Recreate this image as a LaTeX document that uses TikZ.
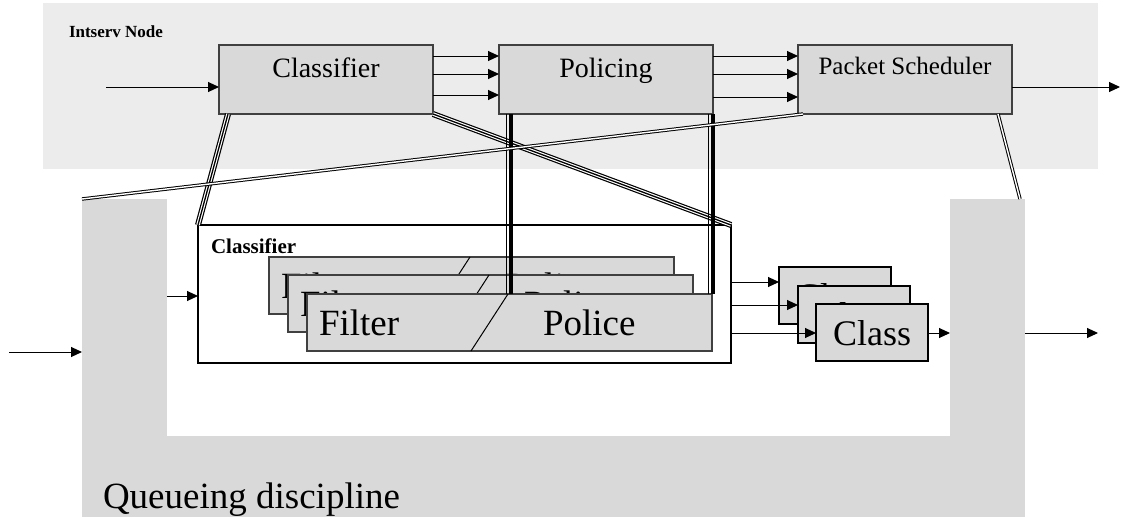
\documentclass[tikz,border=0pt]{standalone}
\usepackage{fontspec}
\setmainfont{Liberation Serif}
\usetikzlibrary{arrows.meta,calc}

\definecolor{boxgray}{HTML}{D9D9D9}
\definecolor{hatchgray}{HTML}{ECECEC}
\definecolor{edgegray}{HTML}{404040}

\newcommand\fsz[1]{\fontsize{#1}{#1}\selectfont}

\tikzset{
  stage/.style={draw=edgegray, line width=1.3pt, fill=boxgray, inner sep=0pt, outer sep=0pt,
    minimum width=214pt, minimum height=69pt, anchor=north west},
  fpbox/.style={draw=edgegray, line width=1.2pt, fill=boxgray, inner sep=0pt, outer sep=0pt,
    minimum width=405pt, minimum height=57pt, anchor=north west},
  clbox/.style={draw=black, line width=1.2pt, fill=boxgray, inner sep=0pt, outer sep=0pt,
    minimum width=112pt, minimum height=57pt, anchor=north west},
  qpart/.style={fill=boxgray, inner sep=0pt, outer sep=0pt, anchor=north west},
  txt/.style={inner sep=0pt, outer sep=0pt},
  arr/.style={-{Triangle[length=11pt,width=10pt]}, line width=1pt},
  slash/.style={line width=1pt},
  triple/.style={draw=black, line width=6pt,
    postaction={draw=white, line width=3.6pt},
    postaction={draw=black, line width=1.3pt}},
  dbl/.style={draw=black, double=white, double distance=1.4pt, line width=1pt},
  heavy/.style={line width=3.5pt},
  hair/.style={line width=1pt},
}

% one Filter/Police entry: name, left x, top y
\newcommand\FilterPolice[3]{%
  \node[fpbox] (#1) at (#2,#3) {};
  \draw[slash] ($(#1.north west)+(164,57)$) -- ($(#1.north west)+(201,0)$);
  \node[txt, anchor=base west, font=\fsz{37}] (#1-f) at ($(#1.north west)+(12,41)$) {Filter};
  \node[txt, anchor=base west, font=\fsz{37}] (#1-p) at ($(#1.north west)+(236,41)$) {Police};
}
% one Class entry: name, left x, top y
\newcommand\ClassEntry[3]{%
  \node[clbox] (#1) at (#2,#3) {};
  \node[txt, anchor=base, font=\fsz{36}] (#1-t) at ($(#1.north)+(0,41)$) {Class};
}

\begin{document}
\begin{tikzpicture}[x=1pt,y=-1pt]
\useasboundingbox (0,0) rectangle (1121,517);

% ---------- Intserv node ----------
\node[qpart, fill=hatchgray, minimum width=1055pt, minimum height=166pt] (intserv) at (43,3) {};
\node[txt, anchor=base west, font=\fsz{17}\bfseries] (intservlbl) at (69,37) {Intserv Node};

\node[stage] (cl) at (219,45) {};
\node[stage] (pol) at (499,45) {};
\node[stage] (sched) at (798,45) {};
\node[txt, anchor=base, font=\fsz{28}] (cl-t) at ($(cl.north)+(0,32)$) {Classifier};
\node[txt, anchor=base, font=\fsz{28}] (pol-t) at ($(pol.north)+(0,32)$) {Policing};
\node[txt, anchor=base, font=\fsz{25}] (sched-t) at ($(sched.north)+(0,29)$) {Packet Scheduler};

\coordinate (inTop) at (106,87);
\coordinate (outTop) at (1120,87);
\draw[arr] (inTop) -- (cl.west |- inTop);
\foreach \y in {56,74,95} \draw[arr] (cl.east |- 0,\y) -- (pol.west |- 0,\y);
\foreach \y in {56,74,97} \draw[arr] (pol.east |- 0,\y) -- (sched.west |- 0,\y);
\draw[arr] (sched.east |- outTop) -- (outTop);

% ---------- Queueing discipline ----------
\node[qpart, minimum width=85pt, minimum height=318pt] (qleft) at (82,199) {};
\node[qpart, minimum width=75pt, minimum height=318pt] (qright) at (950,199) {};
\node[qpart, minimum width=943pt, minimum height=81pt] (qbottom) at (82,436) {};
\node[txt, anchor=base west, font=\fsz{37}] (qlbl) at (103,508) {Queueing discipline};

% classifier container
\node[draw=black, line width=1.2pt, fill=white, inner sep=0pt, outer sep=0pt, anchor=north west,
      minimum width=533pt, minimum height=138pt] (cont) at (198,225) {};
\node[txt, anchor=base west, font=\fsz{21}\bfseries] (contlbl) at (211,253) {Classifier};

\FilterPolice{f1}{269}{257}
\FilterPolice{f2}{288}{275}
\FilterPolice{f3}{307}{294}

\ClassEntry{c1}{779}{267}
\ClassEntry{c2}{798}{286}
\ClassEntry{c3}{816}{304}

\coordinate (inQ) at (9,352);
\coordinate (outQ) at (1098,333);
\draw[arr] (inQ) -- (qleft.west |- inQ);
\draw[arr] (qleft.east |- 0,296) -- (cont.west |- 0,296);
\draw[arr] (cont.east |- 0,282) -- (c1.west |- 0,282);
\draw[arr] (cont.east |- 0,305) -- (c2.west |- 0,305);
\draw[arr] (cont.east |- 0,333) -- (c3.west |- 0,333);
\draw[arr] (c3.east |- 0,333) -- (qright.west |- 0,333);
\draw[arr] (qright.east |- outQ) -- (outQ);

% ---------- links between the two levels ----------
\draw[triple] ($(cl.south west)+(9,0)$) -- (cont.north west);
\draw[triple] (cl.south east) -- (cont.north east);

\coordinate (pL) at ($(f3.north west)+(204,0)$);
\coordinate (pR) at ($(f3.north east)+(1,0)$);
\draw[heavy] (pL) -- (pL |- pol.south);
\draw[hair] ($(pL)+(-4.5,0)$) -- ($(pL |- pol.south)+(-4.5,0)$);
\draw[heavy] (pR) -- (pR |- pol.south);
\draw[hair] ($(pR)+(-4.5,0)$) -- ($(pR |- pol.south)+(-4.5,0)$);

\draw[dbl] ($(sched.south west)+(5,0)$) -- (qleft.north west);
\draw[dbl] ($(sched.south east)+(-14,0)$) -- ($(qright.north east)+(-5,0)$);
\end{tikzpicture}
\end{document}
